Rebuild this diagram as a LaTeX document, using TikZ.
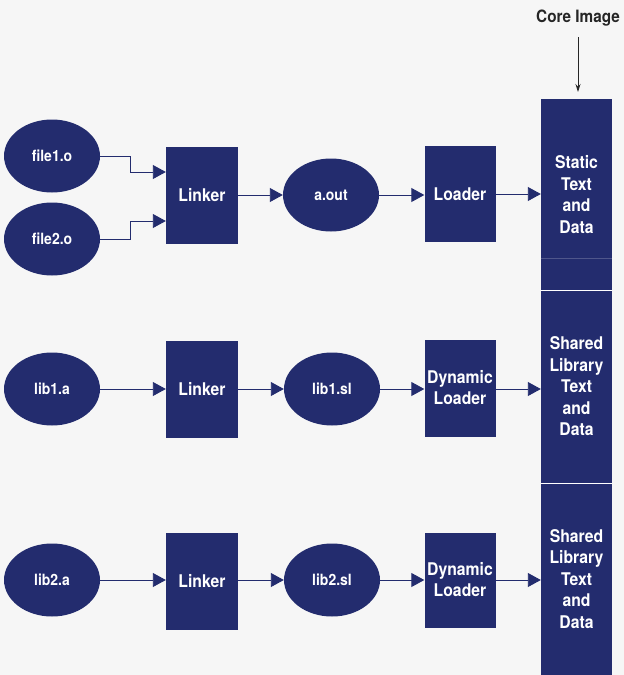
\documentclass[tikz,border=0pt]{standalone}
\usepackage{fontspec}
\setmainfont{TeX Gyre Heros}[FakeStretch=0.9]
\usetikzlibrary{shapes.geometric,arrows.meta}
\definecolor{navy}{HTML}{232C6E}
\definecolor{bg}{HTML}{F6F6F6}
\tikzset{
  file/.style={ellipse,fill=navy,text=white,minimum width=96pt,minimum height=73pt,inner sep=0pt,font=\fontsize{15.5}{18}\selectfont\bfseries},
  proc/.style={rectangle,fill=navy,text=white,minimum width=72pt,minimum height=97pt,inner sep=0pt,align=center,font=\fontsize{17.5}{21}\selectfont\bfseries},
  seg/.style={rectangle,fill=navy,text=white,minimum width=71pt,inner sep=0pt,align=center,font=\fontsize{17.5}{21.5}\selectfont\bfseries},
  flow/.style={draw=navy,line width=0.9pt,-{Triangle[length=13pt,width=14pt]}},
}
\begin{document}
\begin{tikzpicture}[x=1pt,y=-1pt]
\fill[bg] (0,0) rectangle (624,675);
\useasboundingbox (0,0) rectangle (624,675);
% row 1
\node[file] (f1) at (52,156) {file1.o};
\node[file] (f2) at (52,239) {file2.o};
\node[proc] (L1) at (202,195) {Linker};
\node[file] (aout) at (331,195) {a.out};
\node[proc,minimum width=71pt,minimum height=96pt] (Ld) at (460,194) {Loader};
% row 2
\node[file] (lib1a) at (52,389) {lib1.a};
\node[proc] (L2) at (202,389) {Linker};
\node[file] (lib1sl) at (332,389) {lib1.sl};
\node[proc,minimum width=71pt] (DL1) at (460,388) {Dynamic\\Loader};
% row 3
\node[file] (lib2a) at (52,580) {lib2.a};
\node[proc] (L3) at (202,581) {Linker};
\node[file] (lib2sl) at (332,580) {lib2.sl};
\node[proc,minimum width=71pt,minimum height=95pt] (DL2) at (460,580) {Dynamic\\Loader};
% core image column
\node[seg,minimum height=191pt] (S1) at (576.5,194.5) {Static\\Text\\and\\Data};
\node[seg,minimum height=193pt] (S2) at (576.5,386.5) {Shared\\Library\\Text\\and\\Data};
\node[seg,minimum height=192pt] (S3) at (576.5,579) {Shared\\Library\\Text\\and\\Data};
\draw[white,line width=0.8pt] (S1.south west) -- (S1.south east);
\draw[white,line width=0.8pt] (S2.south west) -- (S2.south east);
\draw[navy!80!white,line width=0.4pt] ([yshift=32pt]S1.south west) -- ([yshift=32pt]S1.south east);
\node[font=\fontsize{17}{20}\selectfont\bfseries,text=black!85] (core) at (578,18) {Core Image};
\coordinate (corestart) at (578,37);
\coordinate (coretip) at (578,92);
\draw[black!85,line width=0.8pt,-{Stealth[length=8pt,width=5pt]}] (corestart) -- (coretip);
% connectors
\draw[flow] (f1.east) -- ++(30,0) |- ([yshift=23pt]L1.west);
\draw[flow] (f2.east) -- ++(30,0) |- ([yshift=-26pt]L1.west);
\draw[flow] (L1.east) -- (aout.west);
\draw[flow] (aout.east) -- (aout.east -| Ld.west);
\draw[flow] (Ld.east) -- (Ld.east -| S1.west);
\draw[flow] (lib1a.east) -- (L2.west);
\draw[flow] (L2.east) -- (lib1sl.west);
\draw[flow] (lib1sl.east) -- (lib1sl.east -| DL1.west);
\draw[flow] (lib1sl.east -| DL1.east) -- (lib1sl.east -| S2.west);
\draw[flow] (lib2a.east) -- (lib2a.east -| L3.west);
\draw[flow] (lib2a.east -| L3.east) -- (lib2sl.west);
\draw[flow] (lib2sl.east) -- (lib2sl.east -| DL2.west);
\draw[flow] (DL2.east) -- (DL2.east -| S3.west);
\end{tikzpicture}
\end{document}
